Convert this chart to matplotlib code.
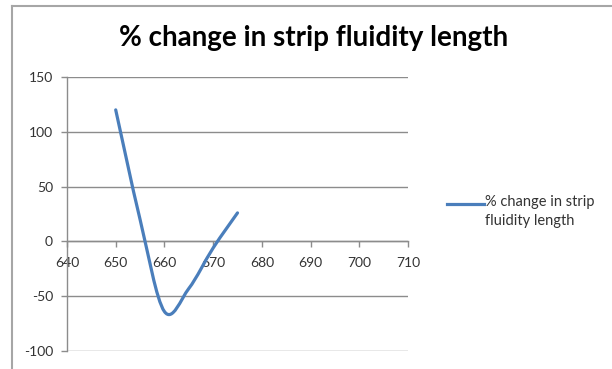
import matplotlib
matplotlib.use("Agg")
import matplotlib.pyplot as plt
from matplotlib.path import Path
from matplotlib.patches import PathPatch
from matplotlib.lines import Line2D
import numpy as np

plt.rcParams['font.family'] = ['Lato', 'DejaVu Sans']
plt.rcParams['axes.unicode_minus'] = False

title = "% change in strip fluidity length"
series_name = "% change in strip fluidity length"
wavelength = [650, 655, 660, 665, 670, 675]
pct_change = [120, 20, -64, -43, -6, 26]
x_ticks = [640, 650, 660, 670, 680, 690, 700, 710]
y_ticks = [-100, -50, 0, 50, 100, 150]

W, H = 612, 369
fig = plt.figure(figsize=(W / 100, H / 100), dpi=100)
ax = fig.add_axes([67 / W, 1 - 351 / H, (408 - 67) / W, (351 - 77) / H])

line_color = "#4a7ebb"
grid_color = "#8c8c8c"

# Excel-like smoothed line via cubic Bezier segments
pts = np.column_stack([wavelength, pct_change]).astype(float)
n = len(pts)
verts = [pts[0]]
codes = [Path.MOVETO]
for i in range(n - 1):
    p0 = pts[i - 1] if i > 0 else pts[i]
    p1 = pts[i]
    p2 = pts[i + 1]
    p3 = pts[i + 2] if i + 2 < n else pts[i + 1]
    c1 = p1 + (p2 - p0) / 6.0
    c2 = p2 - (p3 - p1) / 6.0
    verts += [c1, c2, p2]
    codes += [Path.CURVE4] * 3
path = Path(verts, codes)
ax.add_patch(PathPatch(path, facecolor="none", edgecolor=line_color, lw=2.3,
                       capstyle="round", joinstyle="round", zorder=3))

ax.set_xlim(640, 710)
ax.set_ylim(-100, 150)
ax.set_xticks(x_ticks)
ax.set_yticks(y_ticks)
ax.yaxis.grid(True, color=grid_color, lw=1.0)
ax.set_axisbelow(True)

for s in ["top", "right"]:
    ax.spines[s].set_visible(False)
ax.spines["left"].set_color(grid_color)
ax.spines["left"].set_linewidth(1.0)

ax.tick_params(axis="y", direction="out", length=4, width=1, color=grid_color,
               labelsize=10, pad=6, labelcolor="#333333")
ax.tick_params(axis="x", direction="out", length=4, width=1, color=grid_color,
               labelsize=10, pad=7, labelcolor="#333333")
ax.xaxis.set_ticks_position("bottom")
ax.spines["bottom"].set_position(("data", 0))
ax.spines["bottom"].set_color(grid_color)
ax.spines["bottom"].set_linewidth(1.0)

fig.text(314 / W, 1 - 38 / H, title, ha="center", va="center",
         fontsize=20, fontweight="bold", color="#000000")

# legend
fig.add_artist(Line2D([447 / W, 484 / W], [1 - 204 / H, 1 - 204 / H],
                      color=line_color, lw=2.3, transform=fig.transFigure))
words = series_name.split(" ")
leg_label = " ".join(words[:4]) + "\n" + " ".join(words[4:])
fig.text(485 / W, 1 - 195 / H, leg_label, ha="left", va="top",
         fontsize=10.5, color="#333333", linespacing=1.45)

# chart border
fig.add_artist(Line2D([11.5 / W, 11.5 / W], [0, 1 - 6 / H], color="#a6a6a6",
                      lw=1.5, transform=fig.transFigure))
fig.add_artist(Line2D([11.5 / W, 1], [1 - 6 / H, 1 - 6 / H], color="#a6a6a6",
                      lw=1.5, transform=fig.transFigure))

fig.savefig("out.png", dpi=100)
